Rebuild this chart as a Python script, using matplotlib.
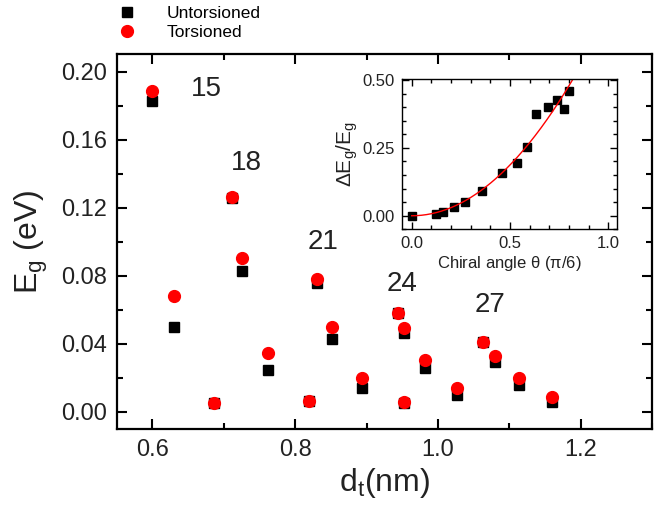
import matplotlib
matplotlib.use("Agg")
import matplotlib.pyplot as plt
import numpy as np
from matplotlib.ticker import MultipleLocator

plt.rcParams['font.family'] = ['Liberation Sans', 'DejaVu Sans']
plt.rcParams['mathtext.default'] = 'regular'

# main panel data: tube diameter (nm) and band gap (eV)
dt = [0.600, 0.630, 0.686, 0.712, 0.725, 0.762, 0.819, 0.831, 0.852, 0.894,
      0.944, 0.953, 0.953, 0.982, 1.027, 1.063, 1.080, 1.113, 1.160]
eg_untors = [0.1825, 0.0496, 0.0053, 0.1258, 0.0828, 0.0245, 0.0060, 0.0759, 0.0428, 0.0138,
             0.0579, 0.0462, 0.0053, 0.0255, 0.0098, 0.0410, 0.0294, 0.0157, 0.0059]
eg_tors = [0.1885, 0.0682, 0.0053, 0.1260, 0.0902, 0.0343, 0.0063, 0.0779, 0.0496, 0.0200,
           0.0579, 0.0490, 0.0055, 0.0304, 0.0138, 0.0412, 0.0328, 0.0196, 0.0088]

# family labels (2n+m)
fam_labels = ['15', '18', '21', '24', '27']
fam_x = [0.675, 0.731, 0.839, 0.950, 1.073]
fam_y = [0.190, 0.146, 0.100, 0.075, 0.063]

# inset data: chiral angle vs relative gap change
theta = [0.0, 0.124, 0.157, 0.217, 0.271, 0.359, 0.459, 0.534, 0.586, 0.632,
         0.695, 0.740, 0.774, 0.798]
deg = [0.0, 0.006, 0.015, 0.033, 0.050, 0.092, 0.156, 0.195, 0.254, 0.376,
       0.402, 0.426, 0.392, 0.458]

fig = plt.figure(figsize=(6.6, 5.05), dpi=100)
ax = fig.add_axes([0.1768, 0.1505, 0.8115, 0.742])

ax.plot(dt, eg_untors, 's', color='black', ms=7.5, label='Untorsioned')
ax.plot(dt, eg_tors, 'o', color='red', ms=8.5, label='Torsioned')

for lab, x, y in zip(fam_labels, fam_x, fam_y):
    ax.text(x, y, lab, fontsize=20, ha='center', va='center', color='#222222')

ax.set_xlim(0.55, 1.3)
ax.set_ylim(-0.0102, 0.2102)
ax.xaxis.set_minor_locator(MultipleLocator(0.1))
ax.yaxis.set_minor_locator(MultipleLocator(0.02))
ax.set_yticks([0.0, 0.04, 0.08, 0.12, 0.16, 0.20])
ax.set_yticklabels(['0.00', '0.04', '0.08', '0.12', '0.16', '0.20'])
ax.set_xticks([0.6, 0.8, 1.0, 1.2])
ax.set_xticklabels(['0.6', '0.8', '1.0', '1.2'])
ax.tick_params(which='both', direction='in', top=True, right=True, width=1.5,
               labelsize=17, colors='black', labelcolor='#222222', pad=7)
ax.tick_params(which='major', length=7)
ax.tick_params(which='minor', length=4)
for s in ax.spines.values():
    s.set_linewidth(1.6)
ax.set_xlabel(r'd$_t$(nm)', fontsize=23, color='#222222', labelpad=4)
ax.set_ylabel(r'E$_g$ (eV)', fontsize=23, color='#222222', labelpad=8)

fig.legend(loc='upper left', bbox_to_anchor=(0.148, 1.012), frameon=False,
           fontsize=12.5, handletextpad=1.3, labelspacing=0.2, borderaxespad=0.3)

# inset
ins = fig.add_axes([0.6086, 0.5459, 0.3258, 0.2971])
ins.plot(theta, deg, 's', color='black', ms=5.5)
# quadratic fit y = a*x^2 (fitted on sqrt scale)
th = np.array(theta)
a = (np.sum(th * np.sqrt(deg)) / np.sum(th**2))**2
tf = np.linspace(0, 1.0, 200)
ins.plot(tf, a * tf**2, color='red', lw=1.0)
ins.set_xlim(-0.051, 1.042)
ins.set_ylim(-0.05, 0.503)
ins.set_xticks([0.0, 0.5, 1.0])
ins.set_xticklabels(['0.0', '0.5', '1.0'])
ins.xaxis.set_minor_locator(MultipleLocator(0.1))
ins.set_yticks([0.0, 0.25, 0.5])
ins.set_yticklabels(['0.00', '0.25', '0.50'])
ins.yaxis.set_minor_locator(MultipleLocator(0.05))
ins.tick_params(which='both', direction='in', top=True, right=True, width=1.0,
                labelsize=12, labelcolor='#222222', pad=5)
ins.tick_params(which='major', length=5)
ins.tick_params(which='minor', length=3)
for s in ins.spines.values():
    s.set_linewidth(1.0)
ins.set_xlabel(r'Chiral angle $\theta$ ($\pi$/6)', fontsize=12, color='#222222', labelpad=2)
ins.set_ylabel(r'$\Delta$E$_g$/E$_g$', fontsize=15, color='#222222', labelpad=2)

fig.savefig('out.png', dpi=100)
